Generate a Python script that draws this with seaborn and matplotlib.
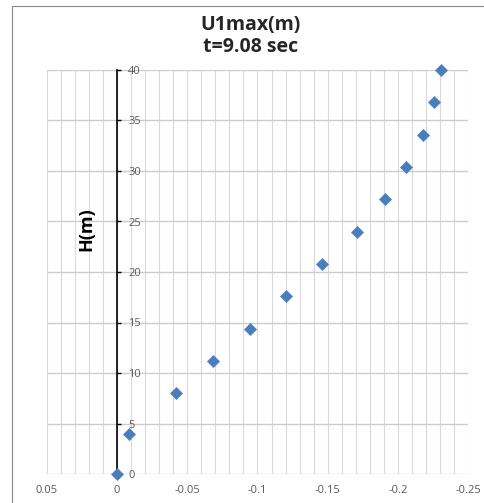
import matplotlib
matplotlib.use("Agg")
import matplotlib.pyplot as plt
import seaborn as sns
import pandas as pd
import numpy as np
from matplotlib.patches import Rectangle

u1max = [0.0, -0.0086, -0.042, -0.0686, -0.095, -0.120, -0.1457, -0.1707, -0.191, -0.2057, -0.218, -0.2257, -0.2307]
h = [0.0, 4.0, 8.0, 11.2, 14.4, 17.6, 20.8, 24.0, 27.2, 30.4, 33.6, 36.8, 40.0]
xticks = [0.05, 0, -0.05, -0.1, -0.15, -0.2, -0.25]
xtick_labels = ["0.05", "0", "-0.05", "-0.1", "-0.15", "-0.2", "-0.25"]
yticks = [0, 5, 10, 15, 20, 25, 30, 35, 40]

sns.set_style("white")
plt.rcParams['font.family'] = ['Open Sans', 'DejaVu Sans']

df = pd.DataFrame({"U1max": u1max, "H": h})

fig = plt.figure(figsize=(4.84, 5.03), dpi=100)
fig.patches.append(Rectangle((12/484, -0.1), 1.0, 1 - 6/503 + 0.1, transform=fig.transFigure,
                             fill=False, edgecolor="#868686", linewidth=0.8))
ax = fig.add_axes([47/484, 1 - 474/503, (468-47)/484, (474-70)/503])

# grid
for xv in np.arange(-0.25, 0.0501, 0.01):
    ax.axvline(xv, color="#d9d9d9", linewidth=0.8, zorder=0)
for yv in yticks:
    ax.axhline(yv, color="#cccccc", linewidth=1.0, zorder=0)

sns.scatterplot(data=df, x="U1max", y="H", marker="D", s=40, color="#4a7ebb",
                edgecolor="#4a7ebb", linewidth=0.3, ax=ax, zorder=3, legend=False,
                clip_on=False)

ax.set_xlim(0.05, -0.25)
ax.set_ylim(0, 40)
ax.set_xticks(xticks)
ax.set_xticklabels(xtick_labels, fontsize=8, color="#595959")
for s in ["top", "left", "bottom"]:
    ax.spines[s].set_visible(False)
ax.spines["right"].set_position(("data", 0))
ax.spines["right"].set_color("black")
ax.spines["right"].set_linewidth(1.2)
ax.yaxis.tick_right()
ax.set_yticks(yticks)
ax.set_yticklabels([str(v) for v in yticks], fontsize=8, color="#595959")
ax.tick_params(axis="y", direction="out", length=3, width=1, color="black", pad=5)
ax.tick_params(axis="x", length=0, pad=8)
ax.set_xlabel("")
ax.set_ylabel("")

fig.text(86/484, 1 - 229/503, "H(m)", rotation=90, ha="center", va="center",
         fontsize=13, fontweight="bold", color="black")
fig.text(251/484, 1 - 25/503, "U1max(m)", ha="center", va="center", fontsize=14, fontweight="bold")
fig.text(251/484, 1 - 47/503, "t=9.08 sec", ha="center", va="center", fontsize=14, fontweight="bold")

fig.savefig("out.png", dpi=100)
